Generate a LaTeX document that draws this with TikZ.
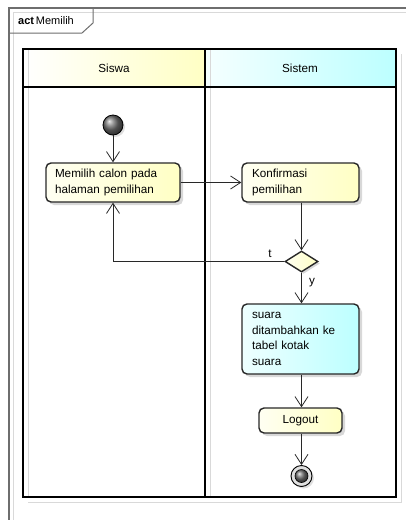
\documentclass[tikz,border=0pt]{standalone}
\usepackage{fontspec}
\setmainfont{Liberation Sans}
\usetikzlibrary{arrows.meta,shapes.geometric,shadows}
\definecolor{yelA}{RGB}{255,255,242}
\definecolor{yelB}{RGB}{255,255,196}
\definecolor{cyA}{RGB}{238,255,255}
\definecolor{cyB}{RGB}{188,255,255}
\definecolor{frameg}{RGB}{110,110,110}
\definecolor{lineg}{RGB}{40,40,40}
\tikzset{
  txt/.style={font=\fontsize{11.7}{15.5}\selectfont},
  actbox/.style={txt, draw=lineg, line width=1.4pt, rounded corners=5pt, inner ysep=2pt,
     drop shadow={shadow xshift=3pt, shadow yshift=-3pt, opacity=0.25, fill=black!60}},
  yelbox/.style={actbox, left color=yelA, right color=yelB},
  cybox/.style={actbox, left color=cyA, right color=cyB},
  arr/.style={draw=lineg, line width=0.8pt, -{Straight Barb[length=10pt,width=13pt,line width=0.8pt]}},
  lane/.style={line width=1.6pt, draw=black},
  shadowline/.style={draw=black!15, line width=1pt},
}
\begin{document}
\begin{tikzpicture}[x=1pt,y=-1pt]
\useasboundingbox (0,0) rectangle (406,520);
\fill[white] (0,0) rectangle (406,520);
% outer frame
\draw[shadowline, line width=0.8pt] (13,520) |- (406,12);
\draw[frameg, line width=1.6pt] (9,520) |- (406,8);
\draw[frameg, line width=1pt] (9,33) -- (82,33) -- (93,23) -- (93,8);
\node[anchor=west, font=\fontsize{11}{13}\selectfont, inner sep=0] (lbl) at (18,21) {\textbf{act}\,Memilih};
% swimlanes
\draw[shadowline] (401,54) -- (401,502) -- (28,502);
\shade[left color=white, right color=yelB] (23,49) rectangle (205,87);
\shade[left color=cyA!60, right color=cyB] (205,49) rectangle (396,87);
\draw[shadowline] (28,50) -- (28,496);
\draw[shadowline] (210,50) -- (210,496);
\draw[lane] (23,49) rectangle (396,497);
\draw[lane] (205,49) -- (205,497);
\draw[lane] (23,87) -- (396,87);
\node[txt] (h1) at (114,68) {Siswa};
\node[txt] (h2) at (300,68) {Sistem};
% nodes
\node[circle, draw=black, line width=0.8pt, minimum size=20pt, inner sep=0, ball color=black!55,
  drop shadow={shadow xshift=2pt, shadow yshift=-2pt, opacity=0.25}] (start) at (113,125) {};
\node[yelbox, minimum width=134pt, minimum height=39pt, inner xsep=9pt, text width=116pt, align=left] (m) at (113,182.5) {Memilih calon pada\\halaman pemilihan};
\node[yelbox, minimum width=117pt, minimum height=39pt, inner xsep=10pt, text width=97pt, align=left] (k) at (300.5,182.5) {Konfirmasi\\pemilihan};
\node[diamond, draw=lineg, line width=1.4pt, left color=yelA, right color=yelB, minimum width=33pt, minimum height=21pt, inner sep=0,
  drop shadow={shadow xshift=2pt, shadow yshift=-2pt, opacity=0.25, fill=black!60}] (d) at (301.5,261.5) {};
\node[cybox, minimum width=117pt, minimum height=70pt, inner xsep=10pt, text width=97pt, align=left] (s) at (300.5,339) {suara\\ditambahkan ke\\tabel kotak\\suara};
\node[yelbox, minimum width=83pt, minimum height=25pt, inner xsep=4pt] (l) at (300.5,420.5) {Logout};
\node[circle, draw=black, line width=0.9pt, minimum size=21pt, inner sep=0, fill=black!12,
  drop shadow={shadow xshift=2pt, shadow yshift=-2pt, opacity=0.25}] (end) at (301.5,476) {};
\node[circle, draw=black, line width=0.6pt, minimum size=13pt, inner sep=0, ball color=black!55] (endin) at (end.center) {};
% connectors
\draw[arr] (start) -- (m);
\draw[arr] (m.east) -- (k.west);
\draw[arr] (k.south -| d.north) -- (d.north);
\draw[arr] (d.west) -| (m.south);
\draw[arr] (d.south) -- (s.north -| d.south);
\draw[arr] (s.south -| d.south) -- (l.north -| d.south);
\draw[arr] (l.south -| end.north) -- (end.north);
\node[txt, inner sep=0] (tl) at (270,254) {t};
\node[txt, inner sep=0] (yl) at (312,283) {y};
\end{tikzpicture}
\end{document}
